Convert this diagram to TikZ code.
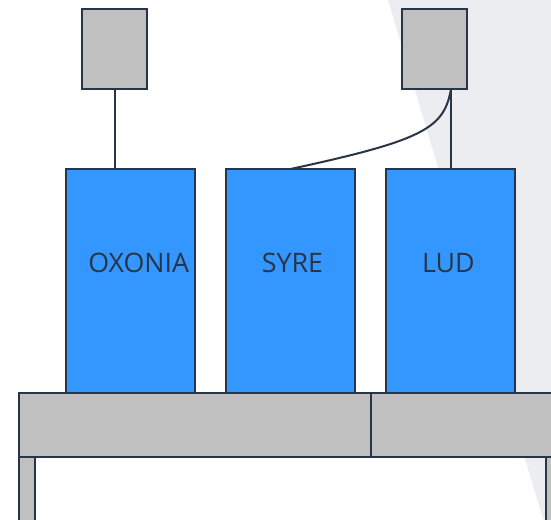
\documentclass[tikz,border=0pt]{standalone}
\usepackage{fontspec}
\setmainfont{Open Sans}
\definecolor{lc}{RGB}{40,52,72}
\definecolor{bl}{RGB}{51,151,255}
\definecolor{gr}{RGB}{192,192,192}
\definecolor{bg}{RGB}{236,237,240}
\begin{document}
\begin{tikzpicture}[x=1pt,y=-1pt,
  gbox/.style={draw=lc,fill=gr,line width=2pt,inner sep=0pt,outer sep=0pt},
  bbox/.style={draw=lc,fill=bl,line width=1.8pt,inner sep=0pt,outer sep=0pt,minimum width=129pt,minimum height=224pt},
  lbl/.style={text=lc,font=\fontsize{26.8}{30}\selectfont,anchor=base,inner sep=0pt},
  conn/.style={draw=lc,line width=2pt}]
\useasboundingbox (0,0) rectangle (551,519);
\clip (0,0) rectangle (551,519);
\fill[bg] (388,0) -- (551,0) -- (551,519) -- (543,519) -- cycle;
% top boxes
\node[gbox,minimum width=65pt,minimum height=80pt] (t1) at (114.5,49) {};
\node[gbox,minimum width=65pt,minimum height=80pt] (t2) at (434.5,49) {};
% blue boxes
\node[bbox] (b1) at (130.5,281) {};
\node[bbox] (b2) at (290.5,281) {};
\node[bbox] (b3) at (450.5,281) {};
\node[lbl] (l1) at (138.7,272.5) {OXONIA};
\node[lbl] (l2) at (292.5,272.5) {SYRE};
\node[lbl] (l3) at (448.4,272.5) {LUD};
% connectors
\coordinate (t2a) at (451,89);
\draw[conn] (t1.south) -- (t1.south |- b1.north);
\draw[conn] (t2a) -- (t2a |- b3.north);
\draw[conn] (t2a) .. controls (444,128) and (425,140) .. (b2.north);
% table
\node[gbox,minimum width=352pt,minimum height=64pt] (tt1) at (195,425) {};
\node[gbox,minimum width=200pt,minimum height=64pt] (tt2) at (471,425) {};
\node[gbox,minimum width=16pt,minimum height=80pt] (leg1) at (27,497) {};
\node[gbox,minimum width=16pt,minimum height=80pt] (leg2) at (554,497) {};
\end{tikzpicture}
\end{document}
